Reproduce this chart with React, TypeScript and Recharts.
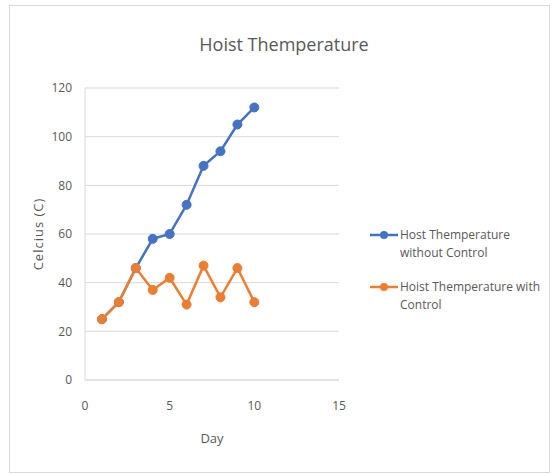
import React from 'react';
import { LineChart, Line, XAxis, YAxis, CartesianGrid, Legend } from 'recharts';

const days = [1, 2, 3, 4, 5, 6, 7, 8, 9, 10];
const withoutControl = [25, 32, 46, 58, 60, 72, 88, 94, 105, 112];
const withControl = [25, 32, 46, 37, 42, 31, 47, 34, 46, 32];
const xTicks = [0, 5, 10, 15];
const yTicks = [0, 20, 40, 60, 80, 100, 120];
const seriesOrder = ['without', 'with'];

const BLUE = '#4472C4';
const ORANGE = '#ED7D31';
const TEXT = '#595959';
const FONT = '"Open Sans", sans-serif';

const data = days.map((d, i) => ({
  day: d,
  without: withoutControl[i],
  with: withControl[i],
}));

const LegendContent = (props: any) => {
  const items = [...(props.payload || [])].sort(
    (a: any, b: any) => seriesOrder.indexOf(a.dataKey) - seriesOrder.indexOf(b.dataKey)
  );
  return (
    <div style={{ width: 180, fontFamily: FONT }}>
      {items.map((entry: any) => (
        <div key={entry.value} style={{ display: 'flex', alignItems: 'flex-start', marginBottom: 16 }}>
          <svg width={32} height={18} style={{ flex: 'none' }}>
            <line x1={2} y1={9} x2={30} y2={9} stroke={entry.color} strokeWidth={2.5} />
            <circle cx={16} cy={9} r={4} fill={entry.color} />
          </svg>
          <span style={{ fontSize: 12, color: TEXT, lineHeight: '18px', width: 148 }}>{entry.value}</span>
        </div>
      ))}
    </div>
  );
};

const App: React.FC = () => {
  return (
    <div
      style={{
        position: 'absolute',
        left: 9,
        top: 5,
        width: 539,
        height: 466,
        border: '1px solid #d9d9d9',
        background: '#fff',
      }}
    >
      <div
        style={{
          position: 'absolute',
          left: 0,
          width: 548,
          top: 26,
          textAlign: 'center',
          fontFamily: FONT,
          fontSize: 18,
          color: TEXT,
        }}
      >
        Hoist Themperature
      </div>
      <LineChart
        width={539}
        height={466}
        data={data}
        margin={{ top: 82, right: 30, bottom: 22, left: 0 }}
        style={{ fontFamily: FONT }}
      >
        <CartesianGrid horizontal vertical={false} stroke="#d9d9d9" />
        <XAxis
          dataKey="day"
          type="number"
          domain={[0, 15]}
          ticks={xTicks}
          height={70}
          tickLine={false}
          tickMargin={15}
          stroke="#d9d9d9"
          tick={{ fill: TEXT, fontSize: 12 }}
          label={{ value: 'Day', position: 'insideBottom', offset: 7, fill: TEXT, fontSize: 13 }}
        />
        <YAxis
          type="number"
          domain={[0, 120]}
          ticks={yTicks}
          width={75}
          tickLine={false}
          tickMargin={7}
          stroke="#d9d9d9"
          tick={{ fill: TEXT, fontSize: 12 }}
          label={{
            value: 'Celcius (C)',
            angle: -90,
            position: 'insideLeft',
            dx: 23,
            fill: TEXT,
            fontSize: 13,
            style: { textAnchor: 'middle', letterSpacing: 1 },
          }}
        />
        <Legend
          layout="vertical"
          align="right"
          verticalAlign="middle"
          content={<LegendContent />}
          wrapperStyle={{ top: 220, left: 358, right: 'auto', width: 180 }}
        />
        <Line
          name="Host Themperature without Control"
          dataKey="without"
          stroke={BLUE}
          strokeWidth={2.5}
          dot={{ r: 4.5, fill: BLUE, stroke: BLUE, strokeWidth: 1 }}
          isAnimationActive={false}
        />
        <Line
          name="Hoist Themperature with Control"
          dataKey="with"
          stroke={ORANGE}
          strokeWidth={2.5}
          dot={{ r: 4.5, fill: ORANGE, stroke: ORANGE, strokeWidth: 1 }}
          isAnimationActive={false}
        />
      </LineChart>
    </div>
  );
};

export default App;
